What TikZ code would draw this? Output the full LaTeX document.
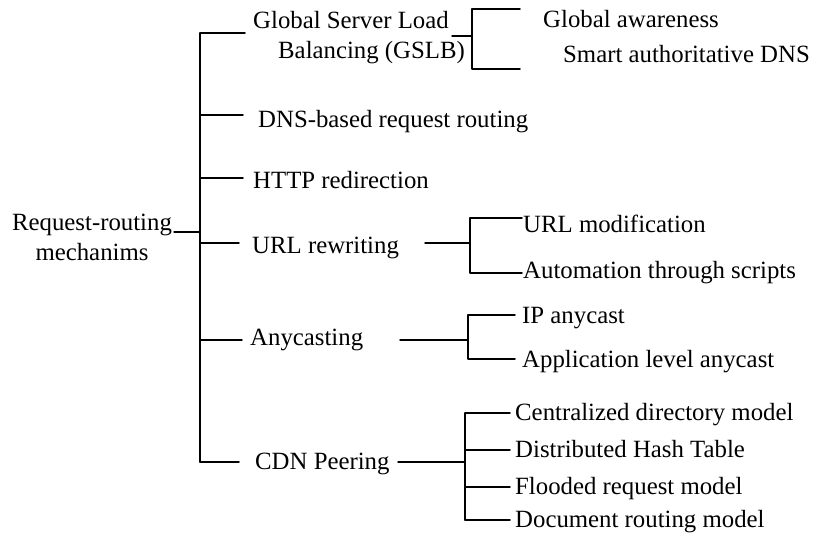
\documentclass[tikz,border=0pt]{standalone}
\usepackage{fontspec}
\setmainfont{Liberation Serif}

\begin{document}
\begin{tikzpicture}[line cap=round,line join=round,x=1pt,y=-1pt,
    lbl/.style={inner sep=0pt,anchor=base west,font=\fontsize{24.8}{30}\selectfont},
    tree/.style={line width=1.5pt}]
      \useasboundingbox (0,0) rectangle (815,542);

      % root and trunk
      \node[lbl,anchor=base,align=center] (root) at (92,260) {Request-routing\\mechanims};
      \coordinate (rj) at (200,232);
      \coordinate (re) at (174,232);
      \draw[tree] (re) -- (rj);
      \coordinate (tt) at (200,33);
      \coordinate (tb) at (200,462);
      \draw[tree] (tt) -- (tb);

      % first level
      \node[lbl,align=left] (gslb) at (253,58) {Global Server Load\\\hspace*{25pt}Balancing (GSLB)};
      \node[lbl] (dns) at (258,127) {DNS-based request routing};
      \node[lbl] (http) at (253,188) {HTTP redirection};
      \node[lbl] (url) at (252,253) {URL rewriting};
      \node[lbl] (any) at (250,345) {Anycasting};
      \node[lbl] (cdn) at (255,469) {CDN Peering};
      \foreach \n/\y/\e in {gslb/33/245,dns/115/243,http/178/243,url/243/239,any/340/242,cdn/462/239}{
        \coordinate (\n-a) at (200,\y);
        \coordinate (\n-b) at (\e,\y);
        \draw[tree] (\n-a) -- (\n-b);
      }

      % GSLB
      \node[lbl] (ga) at (543,27) {Global awareness};
      \node[lbl] (sad) at (563,62) {Smart authoritative DNS};
      \coordinate (gs) at (452,36);
      \coordinate (gj) at (472,36);
      \draw[tree] (gs) -- (gj);
      \draw[tree] (520,9) -| (472,69) -- (520,69);

      % URL rewriting
      \node[lbl] (um) at (523,232) {URL modification};
      \node[lbl] (ats) at (523,278) {Automation through scripts};
      \coordinate (us) at (425,243);
      \coordinate (uj) at (470,243);
      \draw[tree] (us) -- (uj);
      \draw[tree] (522,218) -| (470,273) -- (522,273);

      % Anycasting
      \node[lbl] (ipa) at (522,323) {IP anycast};
      \node[lbl] (ala) at (522,367) {Application level anycast};
      \coordinate (as) at (400,340);
      \coordinate (aj) at (468,340);
      \draw[tree] (as) -- (aj);
      \draw[tree] (515,315) -| (468,359) -- (515,359);

      % CDN Peering
      \coordinate (cs) at (398,462);
      \coordinate (cj) at (465,462);
      \draw[tree] (cs) -- (cj);
      \draw[tree] (465,413) -- (465,520);
      \foreach \n/\y/\t in {cdm/413/Centralized directory model,dht/450/Distributed Hash Table,
                            frm/487/Flooded request model,drm/520/Document routing model}{
        \draw[tree] (465,\y) -- (510,\y);
        \node[lbl] (\n) at (515,\y+7) {\t};
      }
\end{tikzpicture}
\end{document}
